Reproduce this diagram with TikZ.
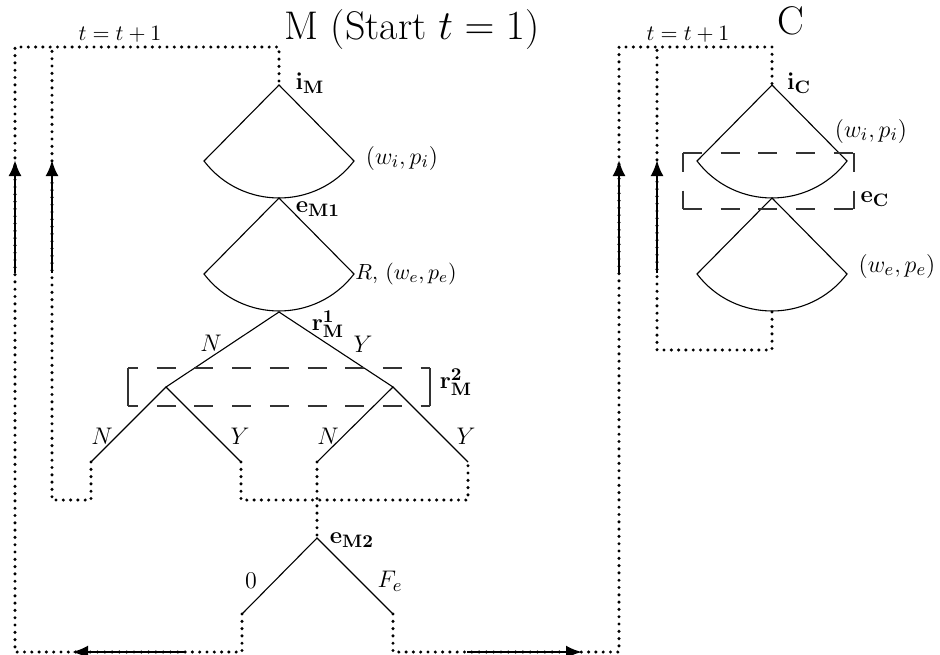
\documentclass[tikz,border=0pt]{standalone}
\usetikzlibrary{arrows.meta}
\begin{document}
\begin{tikzpicture}[x=0.5pt,y=-0.5pt,
  dots/.style={line width=1.7pt, dash pattern=on 0pt off 3.65pt, line cap=round},
  thinline/.style={line width=0.55pt},
  infoset/.style={line width=0.6pt, draw=black!80, dash pattern=on 9.5pt off 9.35pt},
  bracket/.style={line width=0.6pt, draw=black!80},
  looparrow/.style={line width=1.3pt, -{Latex[length=8pt,width=6.5pt]}},
  lbl/.style={inner sep=0pt, font=\fontsize{13}{15}\selectfont},
  midlbl/.style={inner sep=0pt, font=\fontsize{10.8}{13}\selectfont},
  smalllbl/.style={inner sep=0pt, font=\fontsize{11}{13}\selectfont},
  titlelbl/.style={inner sep=0pt, font=\fontsize{20}{24}\selectfont},
  fan/.pic={\draw[thinline] (0,0) -- (-75,76) .. controls (-37.2,125.3) and (37.2,125.3) .. (75,76) -- cycle;}
]
\useasboundingbox (0,0) rectangle (940,654);

% ---------- M column coordinates ----------
\coordinate (TLo) at (15,47);
\coordinate (TLi) at (52,47);
\coordinate (TRm) at (279,47);
\coordinate (iM) at (279,85);
\coordinate (eM1) at (279,198);
\coordinate (rM1) at (279,312);
\coordinate (na) at (166,387);
\coordinate (nb) at (393,387);
\coordinate (l1) at (91,462);
\coordinate (l2) at (241,462);
\coordinate (l3) at (317,462);
\coordinate (l4) at (468,462);
\coordinate (l1d) at (91,500);
\coordinate (BLi) at (52,500);
\coordinate (l2d) at (241,500);
\coordinate (l3d) at (317,500);
\coordinate (l4d) at (468,500);
\coordinate (eM2) at (317,538);
\coordinate (z0) at (242,614);
\coordinate (zF) at (393,614);
\coordinate (z0d) at (242,652);
\coordinate (BLo) at (15,652);
\coordinate (zFd) at (393,652);
\coordinate (BRc) at (619,652);

% ---------- C column coordinates ----------
\coordinate (TCo) at (619,47);
\coordinate (TCi) at (657,47);
\coordinate (TRc) at (772,47);
\coordinate (iC) at (772,85);
\coordinate (eC) at (772,198);
\coordinate (cEnd) at (772,312);
\coordinate (cEndd) at (772,350);
\coordinate (BCi) at (657,350);

% information set corners
\coordinate (r2tl) at (128,368); \coordinate (r2tr) at (430,368);
\coordinate (r2bl) at (128,406); \coordinate (r2br) at (430,406);
\coordinate (ctl) at (683,153); \coordinate (ctr) at (854,153);
\coordinate (cbl) at (683,209); \coordinate (cbr) at (854,209);

% arrow ends
\coordinate (a1s) at (15,273);  \coordinate (a1e) at (15,160);
\coordinate (a2s) at (52,273);  \coordinate (a2e) at (52,160);
\coordinate (a3s) at (619,273); \coordinate (a3e) at (619,160);
\coordinate (a4s) at (657,273); \coordinate (a4e) at (657,160);
\coordinate (a5s) at (185,652); \coordinate (a5e) at (72,652);
\coordinate (a6s) at (467,652); \coordinate (a6e) at (582,652);

% ---------- fans ----------
\pic at (iM) {fan};
\pic at (eM1) {fan};
\pic at (iC) {fan};
\pic at (eC) {fan};

% ---------- tree ----------
\draw[thinline] (na) -- (rM1) -- (nb);
\draw[thinline] (l1) -- (na) -- (l2);
\draw[thinline] (l3) -- (nb) -- (l4);
\draw[thinline] (z0) -- (eM2) -- (zF);

% information sets
\draw[infoset, dash phase=4.5pt] (r2tl) -- (r2tr);
\draw[infoset, dash phase=4.5pt] (r2bl) -- (r2br);
\draw[bracket] (r2tl) -- (r2bl);
\draw[bracket] (r2tr) -- (r2br);
\draw[infoset] (ctl) -- (ctr);
\draw[infoset] (cbl) -- (cbr);
\draw[infoset] (ctl) -- (cbl);
\draw[infoset] (ctr) -- (cbr);

% ---------- dotted loops ----------
\draw[dots] (z0) -- (z0d) -- (BLo) -- (TLo) -- (TRm) -- (iM);
\draw[dots] (l1) -- (l1d) -- (BLi) -- (TLi);
\draw[dots] (l2) -- (l2d) -- (l4d) -- (l4);
\draw[dots] (l3) -- (l3d) -- (eM2);
\draw[dots] (zF) -- (zFd) -- (BRc) -- (TCo) -- (TRc) -- (iC);
\draw[dots] (cEnd) -- (cEndd) -- (BCi) -- (TCi);

% ---------- arrows ----------
\draw[looparrow] (a1s) -- (a1e);
\draw[looparrow] (a2s) -- (a2e);
\draw[looparrow] (a3s) -- (a3e);
\draw[looparrow] (a4s) -- (a4e);
\draw[looparrow] (a5s) -- (a5e);
\draw[looparrow] (a6s) -- (a6e);

% ---------- labels ----------
\node[titlelbl] (titleM) at (412,30) {M (Start $t=1$)};
\node[titlelbl] (titleC) at (791,21) {C};
\node[smalllbl] (incM) at (120,34) {$t=t+1$};
\node[smalllbl] (incC) at (688,34) {$t=t+1$};

\node[lbl] (liM) at (310,83) {$\mathbf{i_M}$};
\node[lbl] (lwiM) at (402,158) {$(w_i,p_i)$};
\node[lbl] (leM1) at (318,209) {$\mathbf{e_{M1}}$};
\node[midlbl] (lR) at (406,274) {$R$, $(w_e,p_e)$};
\node[lbl] (lrM1) at (328,324) {$\mathbf{r^1_M}$};
\node[lbl] (lN1) at (211,343) {$N$};
\node[lbl] (lY1) at (363,344) {$Y$};
\node[lbl] (lrM2) at (456,382) {$\mathbf{r^2_M}$};
\node[lbl] (lN2) at (102,436) {$N$};
\node[lbl] (lY2) at (240,436) {$Y$};
\node[lbl] (lN3) at (328,436) {$N$};
\node[lbl] (lY3) at (466,436) {$Y$};
\node[lbl] (leM2) at (352,540) {$\mathbf{e_{M2}}$};
\node[lbl] (l0) at (251,581) {$0$};
\node[lbl] (lFe) at (390,581) {$F_e$};

\node[lbl] (liC) at (799,83) {$\mathbf{i_C}$};
\node[lbl] (lwiC) at (871,131) {$(w_i,p_i)$};
\node[lbl] (leC) at (875,199) {$\mathbf{e_C}$};
\node[lbl] (lweC) at (897,266) {$(w_e,p_e)$};
\end{tikzpicture}
\end{document}
